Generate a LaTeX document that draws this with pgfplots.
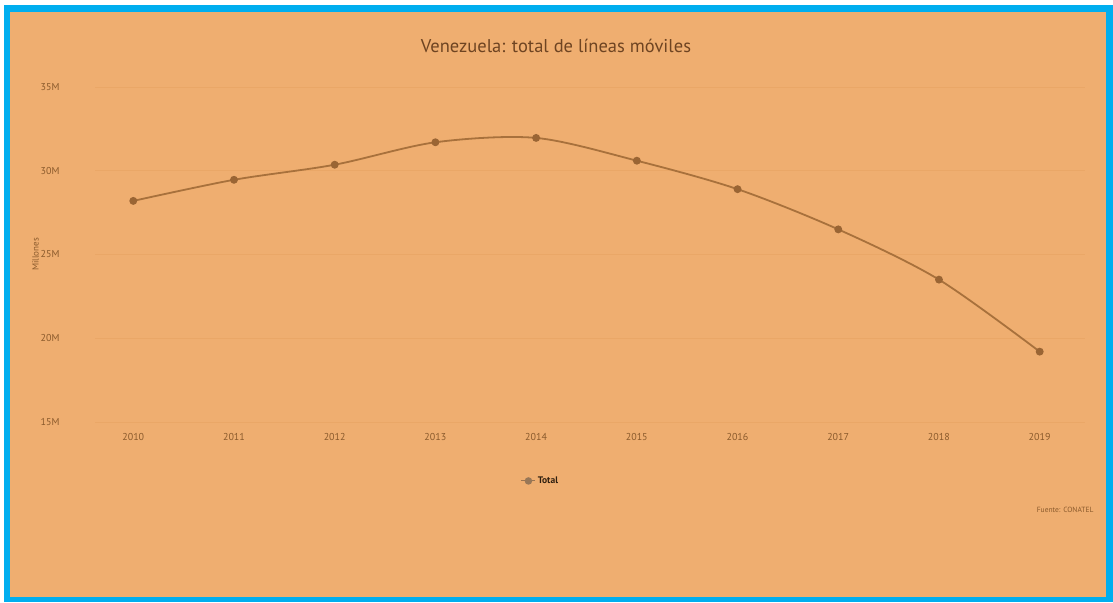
\documentclass[border=0pt]{standalone}
\usepackage{pgfplots}
\pgfplotsset{compat=1.18}
\usepackage{fontspec}
\setmainfont{PT Sans}
\definecolor{bg}{HTML}{EFAE70}
\definecolor{bord}{HTML}{00AEEF}
\definecolor{txt}{HTML}{8A5A2C}
\definecolor{ttl}{HTML}{6E4422}
\definecolor{ln}{HTML}{A8713C}
\definecolor{mk}{HTML}{9A6534}
\definecolor{grd}{HTML}{EAA767}
\begin{document}
\begin{tikzpicture}
\useasboundingbox (0pt,0pt) rectangle (1113pt,602pt);
\fill[white] (0pt,0pt) rectangle (1113pt,602pt);
\fill[bord] (4pt,0pt) rectangle (1113pt,597pt);
\fill[bg] (10pt,5pt) rectangle (1106pt,590pt);
\node[text=ttl, font=\fontsize{18.5}{20}\selectfont] at (556pt,556pt) {Venezuela: total de líneas móviles};
\node[text=txt, font=\fontsize{7.5}{8}\selectfont, anchor=east] at (1097pt,92pt) {Fuente: CONATEL};
\begin{axis}[
  at={(95pt,180pt)}, anchor=south west,
  scale only axis, width=990pt, height=335pt,
  xmin=2009.62, xmax=2019.45,
  ymin=15, ymax=35,
  axis line style={draw=none},
  xtick={2010,...,2019},
  ytick={15,20,25,30,35},
  yticklabels={15M,20M,25M,30M,35M},
  xticklabel style={text=txt, font=\fontsize{10}{11}\selectfont, yshift=-8pt},
  xticklabel={\pgfmathprintnumber[1000 sep={},assume math mode=true]{\tick}},
  yticklabel style={text=txt, font=\fontsize{10}{11}\selectfont, xshift=-32pt},
  major tick length=0pt,
  ymajorgrids, grid style={grd, line width=0.6pt},
  ylabel={Millones},
  every axis y label/.style={at={(-0.06,0.5)}, rotate=90, anchor=center, text=txt, font=\fontsize{9}{10}\selectfont},
  legend style={at={(0.45,-0.176)}, anchor=center, draw=none, fill=none, font=\bfseries\fontsize{9.5}{10}\selectfont, text=black!75!brown},
  legend image code/.code={\draw[ln!70!gray, line width=1pt] (0pt,0pt) -- (14pt,0pt); \fill[ln!60!gray] (7pt,0pt) circle (2.8pt);},
]
\addplot[ln, line width=1.8pt, smooth, tension=0.5, mark=*, mark size=3pt, mark options={fill=mk, draw=mk}]
coordinates {(2010,28.2) (2011,29.46) (2012,30.36) (2013,31.7) (2014,31.96) (2015,30.6) (2016,28.9) (2017,26.5) (2018,23.5) (2019,19.2)};
\addlegendentry{Total}
\end{axis}
\end{tikzpicture}
\end{document}
